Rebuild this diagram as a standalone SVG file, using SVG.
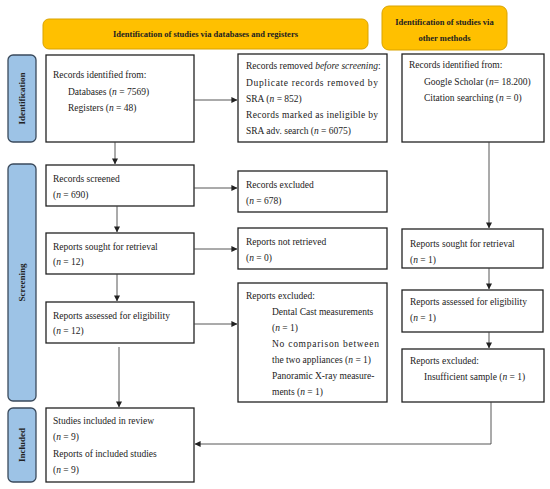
<svg xmlns="http://www.w3.org/2000/svg" width="550" height="489" viewBox="0 0 550 489">
<defs>
<marker id="ah" viewBox="0 0 8 8" refX="7.5" refY="4" markerWidth="6" markerHeight="6" markerUnits="userSpaceOnUse" orient="auto">
<path d="M0,0 L8,4 L0,8 z" fill="#222"/>
</marker>
<style>
.hdr{fill:#FFC000;stroke:#D9A300;stroke-width:1}
.side{fill:#9DC3E6;stroke:#3A4A5C;stroke-width:1.3}
.box{fill:#fff;stroke:#222;stroke-width:1.3}
.t{font-family:"Liberation Serif","Times New Roman",serif;font-size:9.5px;fill:#222}
.hb{font-family:"Liberation Serif","Times New Roman",serif;font-size:8.5px;font-weight:bold;fill:#222}
.sb{font-family:"Liberation Serif","Times New Roman",serif;font-size:9px;font-weight:bold;fill:#222}
.c{fill:none;stroke:#444;stroke-width:0.9}
</style>
</defs>
<rect width="550" height="489" fill="#fff"/>

<g id="hdr-db"><rect class="hdr" x="43" y="19" width="325" height="30" rx="6"/><text class="hb" x="205.5" y="37" text-anchor="middle">Identification of studies via databases and registers</text></g>
<g id="hdr-other"><rect class="hdr" x="382" y="6" width="125" height="44" rx="7"/><text class="hb" x="444.5" y="25" text-anchor="middle">Identification of studies via</text><text class="hb" x="444.5" y="41" text-anchor="middle">other methods</text></g>

<g id="side-ident"><rect class="side" x="8" y="55" width="28" height="87" rx="5"/><text class="sb" transform="translate(25,98.5) rotate(-90)" text-anchor="middle">Identification</text></g>
<g id="side-screen"><rect class="side" x="8" y="164" width="28" height="237" rx="5"/><text class="sb" transform="translate(25,282.5) rotate(-90)" text-anchor="middle">Screening</text></g>
<g id="side-incl"><rect class="side" x="8" y="408" width="28" height="74" rx="5"/><text class="sb" transform="translate(25,445) rotate(-90)" text-anchor="middle">Included</text></g>

<g id="n-identified"><rect class="box" x="46" y="55" width="148" height="87"/>
<text class="t" x="53" y="78">Records identified from:</text>
<text class="t" x="68" y="95">Databases (<tspan font-style="italic">n</tspan> = 7569)</text>
<text class="t" x="68" y="111">Registers (<tspan font-style="italic">n</tspan> = 48)</text></g>

<g id="n-removed"><rect class="box" x="238" y="54" width="149" height="88"/>
<text class="t" x="246" y="69">Records removed <tspan font-style="italic">before screening</tspan>:</text>
<text class="t" x="246" y="86" textLength="132" lengthAdjust="spacing">Duplicate records removed by</text>
<text class="t" x="246" y="102">SRA (<tspan font-style="italic">n</tspan> = 852)</text>
<text class="t" x="246" y="118" textLength="132" lengthAdjust="spacing">Records marked as ineligible by</text>
<text class="t" x="246" y="134">SRA adv. search (<tspan font-style="italic">n</tspan> = 6075)</text></g>

<g id="n-other-identified"><rect class="box" x="402" y="54" width="142" height="88"/>
<text class="t" x="409" y="68">Records identified from:</text>
<text class="t" x="424" y="85">Google Scholar (<tspan font-style="italic">n</tspan>= 18.200)</text>
<text class="t" x="424" y="101">Citation searching (<tspan font-style="italic">n</tspan> = 0)</text></g>

<g id="n-screened"><rect class="box" x="46" y="165" width="148" height="41"/>
<text class="t" x="53" y="182">Records screened</text>
<text class="t" x="53" y="198">(<tspan font-style="italic">n</tspan> = 690)</text></g>

<g id="n-excluded"><rect class="box" x="238" y="171" width="149" height="41"/>
<text class="t" x="246" y="188">Records excluded</text>
<text class="t" x="246" y="204">(<tspan font-style="italic">n</tspan> = 678)</text></g>

<g id="n-sought"><rect class="box" x="46" y="233" width="148" height="41"/>
<text class="t" x="53" y="250">Reports sought for retrieval</text>
<text class="t" x="53" y="265">(<tspan font-style="italic">n</tspan> = 12)</text></g>

<g id="n-notretrieved"><rect class="box" x="238" y="228" width="149" height="41"/>
<text class="t" x="246" y="245">Reports not retrieved</text>
<text class="t" x="246" y="261">(<tspan font-style="italic">n</tspan> = 0)</text></g>

<g id="n-other-sought"><rect class="box" x="402" y="229" width="141" height="39"/>
<text class="t" x="410" y="247">Reports sought for retrieval</text>
<text class="t" x="410" y="263">(<tspan font-style="italic">n</tspan> = 1)</text></g>

<g id="n-assessed"><rect class="box" x="46" y="302" width="148" height="41"/>
<text class="t" x="53" y="319">Reports assessed for eligibility</text>
<text class="t" x="53" y="334">(<tspan font-style="italic">n</tspan> = 12)</text></g>

<g id="n-reports-excluded"><rect class="box" x="238" y="283" width="149" height="119"/>
<text class="t" x="246" y="299">Reports excluded:</text>
<text class="t" x="272" y="315">Dental Cast measurements</text>
<text class="t" x="272" y="331">(<tspan font-style="italic">n</tspan> = 1)</text>
<text class="t" x="272" y="347" textLength="107" lengthAdjust="spacing">No comparison between</text>
<text class="t" x="272" y="363">the two appliances (<tspan font-style="italic">n</tspan> = 1)</text>
<text class="t" x="272" y="379">Panoramic X-ray measure-</text>
<text class="t" x="272" y="395">ments (<tspan font-style="italic">n</tspan> = 1)</text></g>

<g id="n-other-assessed"><rect class="box" x="402" y="290" width="141" height="42"/>
<text class="t" x="410" y="305">Reports assessed for eligibility</text>
<text class="t" x="410" y="321">(<tspan font-style="italic">n</tspan> = 1)</text></g>

<g id="n-other-excluded"><rect class="box" x="402" y="349" width="142" height="53"/>
<text class="t" x="410" y="364">Reports excluded:</text>
<text class="t" x="424" y="380">Insufficient sample (<tspan font-style="italic">n</tspan> = 1)</text></g>

<g id="n-included"><rect class="box" x="46" y="408" width="148" height="74"/>
<text class="t" x="53" y="424">Studies included in review</text>
<text class="t" x="53" y="440">(<tspan font-style="italic">n</tspan> = 9)</text>
<text class="t" x="53" y="457">Reports of included studies</text>
<text class="t" x="53" y="473">(<tspan font-style="italic">n</tspan> = 9)</text></g>

<g id="connectors">
<path class="c" d="M194,100 H237" marker-end="url(#ah)"/>
<path class="c" d="M115,142 V164" marker-end="url(#ah)"/>
<path class="c" d="M194,188 H237" marker-end="url(#ah)"/>
<path class="c" d="M117,206 V232" marker-end="url(#ah)"/>
<path class="c" d="M194,249 H237" marker-end="url(#ah)"/>
<path class="c" d="M117,274 V301" marker-end="url(#ah)"/>
<path class="c" d="M194,324 H237" marker-end="url(#ah)"/>
<path class="c" d="M119,347 V407" marker-end="url(#ah)"/>
<path class="c" d="M489,142 V228" marker-end="url(#ah)"/>
<path class="c" d="M489,268 V289" marker-end="url(#ah)"/>
<path class="c" d="M489,332 V348" marker-end="url(#ah)"/>
<path class="c" d="M491,402 V444 H195" marker-end="url(#ah)"/>
</g>
</svg>
